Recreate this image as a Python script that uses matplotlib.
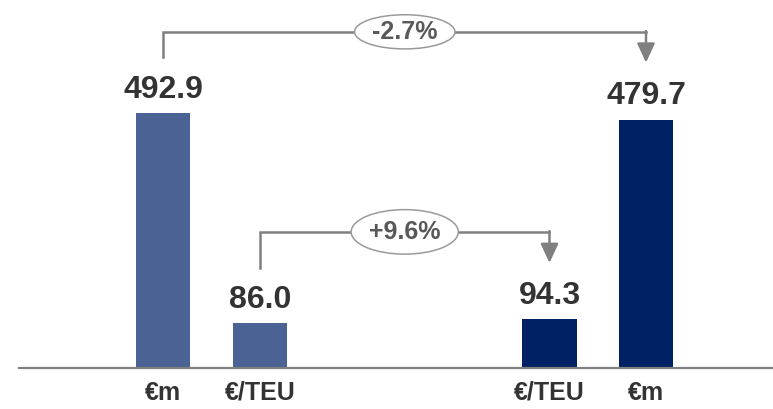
import matplotlib.pyplot as plt
from matplotlib.patches import Ellipse

plt.rcParams['font.family'] = ['Liberation Sans', 'DejaVu Sans']

# data
pos = [0, 1, 4, 5]
values = [492.9, 86.0, 94.3, 479.7]
value_labels = ['492.9', '86.0', '94.3', '479.7']
tick_labels = ['€m', '€/TEU', '€/TEU', '€m']
colors = ['#4B6394', '#4B6394', '#002163', '#002163']
changes = ['-2.7%', '+9.6%']

line_col = '#808080'
txt_col = '#333333'

fig = plt.figure(figsize=(7.73, 4.09), dpi=100)
ax = fig.add_axes([0, 41 / 409, 1, 368 / 409])

ax.bar(pos, values, width=0.56, color=colors, zorder=2)
for x, v, s in zip(pos, values, value_labels):
    ax.annotate(s, (x, v), xytext=(0, 6), textcoords='offset points',
                ha='center', va='bottom', fontsize=23, fontweight='bold', color=txt_col)

ax.set_xlim(-1.694, 6.316)
ax.set_ylim(0, 711)
ax.set_xticks(pos)
ax.set_xticklabels(tick_labels, fontsize=18, fontweight='bold', color=txt_col)
ax.tick_params(axis='x', length=0, pad=9)
ax.set_yticks([])
for s in ['top', 'right', 'left']:
    ax.spines[s].set_visible(False)
ax.spines['bottom'].set_color(line_col)
ax.spines['bottom'].set_linewidth(1.6)
ax.spines['bottom'].set_bounds(-1.5, 6.4)


def bracket(x0, x1, y_top, y_left, y_tip, label, ew, eh):
    ax.plot([x0, x0, x1], [y_left, y_top, y_top], color=line_col, lw=1.8,
            solid_joinstyle='miter', zorder=3)
    ax.annotate('', xy=(x1, y_tip), xytext=(x1, y_top + 1.5),
                arrowprops=dict(arrowstyle='-|>,head_length=0.58,head_width=0.27',
                                color=line_col, lw=1.8, mutation_scale=20,
                                shrinkA=0, shrinkB=0), zorder=3)
    xm = (x0 + x1) / 2
    ax.add_patch(Ellipse((xm, y_top), ew, eh, facecolor='white',
                         edgecolor='#9A9A9A', lw=1.1, zorder=4))
    ax.text(xm, y_top, label, ha='center', va='center', fontsize=18,
            fontweight='bold', color='#595959', zorder=5)


bracket(pos[0], pos[3], 649.5, 600, 590, changes[0], 1.04, 66)
bracket(pos[1], pos[2], 263, 193, 203, changes[1], 1.11, 86)

plt.savefig('out.png', dpi=100)
